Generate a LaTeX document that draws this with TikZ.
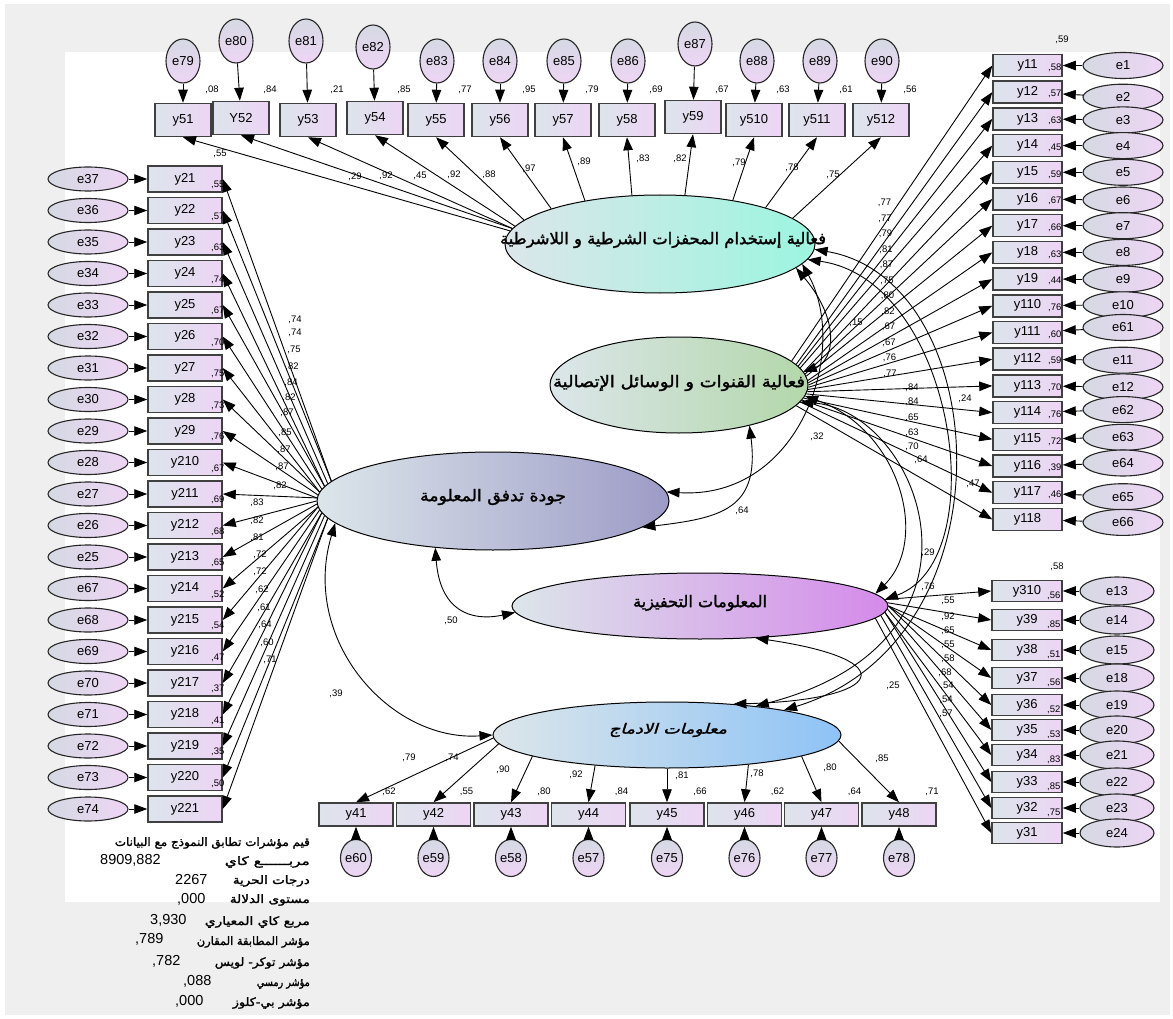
\documentclass[tikz,border=0pt]{standalone}
\usepackage{fontspec}
\setmainfont{Liberation Sans}
\newfontfamily\arb[Script=Arabic,FakeBold=1.6]{DejaVu Sans}
\newfontfamily\arbi[Script=Arabic,FakeBold=1.6,FakeSlant=0.25]{DejaVu Sans}
\usetikzlibrary{shapes.geometric,arrows.meta}
\TeXXeTstate=1

\definecolor{bgGray}{HTML}{EFEFEF}
\definecolor{boxL}{HTML}{DDE4EC}
\definecolor{boxR}{HTML}{EDD5F4}
\definecolor{errL}{HTML}{D5D9E3}
\definecolor{errR}{HTML}{EED5F5}
\definecolor{latL}{HTML}{DCE6EA}
\definecolor{latA}{HTML}{9CF5E0}
\definecolor{latB}{HTML}{B3D7AA}
\definecolor{latC}{HTML}{9D9BC7}
\definecolor{latD}{HTML}{D58AEA}
\definecolor{latE}{HTML}{8EC3F6}

% Arabic text at a given size, stretched horizontally to a given width
\newcommand\artxt[4][\arb]{\resizebox{#3pt}{\height}{#1\fontsize{#2}{#2}\selectfont #4}}

\tikzset{
  obs/.style={rectangle, draw=black!75, line width=1.5pt, inner sep=0pt,
    left color=boxL, right color=boxR, font=\fontsize{13}{13}\selectfont},
  errh/.style={ellipse, draw=black!85, line width=1.1pt, inner sep=0pt,
    left color=errL, right color=errR, font=\fontsize{13}{13}\selectfont},
  errv/.style={ellipse, draw=black!85, line width=1.1pt, inner sep=0pt,
    top color=errL, bottom color=errR, font=\fontsize{13}{13}\selectfont},
  lat/.style={ellipse, draw=black, line width=1pt, inner sep=0pt, left color=latL},
  rsq/.style={inner sep=0pt, font=\fontsize{9.5}{10}\selectfont},
  ld/.style={-{Triangle[length=13pt,width=9.5pt]}, line width=0.9pt},
  cv/.style={{Triangle[length=13pt,width=9.5pt]}-{Triangle[length=13pt,width=9.5pt]}, line width=0.9pt},
  fitline/.style={anchor=east, inner sep=0pt},
}

\begin{document}
\begin{tikzpicture}[x=1pt,y=-1pt]
\useasboundingbox (0,0) rectangle (1173,1019);
\fill[white] (0,0) rectangle (1173,1019);
\fill[bgGray] (5,4) rectangle (1170,1015);
\fill[white] (65,52) rectangle (1160,902);

% ---------- latent variables ----------
\node[lat, minimum width=310pt, minimum height=98pt, right color=latA] (L1) at (660,244) {};
\node[lat, minimum width=258pt, minimum height=96pt, right color=latB] (L2) at (679,385) {};
\node[lat, minimum width=352pt, minimum height=98pt, right color=latC] (L3) at (493,501) {};
\node[lat, minimum width=376pt, minimum height=66pt, right color=latD] (L4) at (700,606) {};
\node[lat, minimum width=348pt, minimum height=66pt, right color=latE] (L5) at (667,735) {};

% ---------- top row: y51 ... y512 ----------
\foreach \lab/\x/\y/\e/\ex/\ey/\v [count=\k] in {
  y51/183/120/79/183/61/08, Y52/241/118/80/236/41/84, y53/308/120/81/306/41/21,
  y54/375/118/82/373/47/85, y55/436/120/83/437/61/77, y56/500/120/84/500/61/95,
  y57/563/120/85/564/61/79, y58/627/120/86/628/61/69, y59/693/117/87/695/44/67,
  y510/754/120/88/757/61/63, y511/817/120/89/820/61/61, y512/881/120/90/882/61/56} {
  \node[obs, minimum width=56pt, minimum height=33pt] (t\k) at (\x,\y) {\lab};
  \node[errv, minimum width=34pt, minimum height=44pt] (te\k) at (\ex,\ey) {e\e};
  \node[rsq] at (\x+29,90) {,\v};
}

% ---------- left column: y21 ... y221 ----------
\foreach \e [count=\k] in {37,36,35,34,33,32,31,30,29,28,27,26,25,67,68,69,70,71,72,73,74} {
  \pgfmathsetmacro\yy{179+(\k-1)*31.5}
  \node[obs, minimum width=74pt, minimum height=26pt] (l\k) at (185,\yy) {y2\k};
  \node[errh, minimum width=80pt, minimum height=24pt] (le\k) at (88,\yy) {e\e};
}
\foreach \v [count=\k] in {55,57,63,74,67,70,75,73,76,67,69,68,65,52,54,47,37,41,35,50} {
  \pgfmathsetmacro\yy{179+(\k-1)*31.5+6}
  \node[rsq, anchor=west] at (211,\yy) {,\v};
}

% ---------- right column: y11 ... y118 ----------
\foreach \e/\dy [count=\k] in {1/0,2/5,3/1,4/0,5/0,6/1,7/0,8/0,9/0,10/-1,61/-5,11/1,12/1,62/-3,63/-2,64/-3,65/4,66/3} {
  \pgfmathsetmacro\yy{65.5+(\k-1)*26.7}
  \pgfmathsetmacro\ey{\yy+\dy}
  \node[obs, minimum width=69pt, minimum height=22pt] (r\k) at (1027.5,\yy) {y1\k\hspace{12pt}};
  \node[errh, minimum width=80pt, minimum height=26pt] (re\k) at (1123,\ey) {e\e};
}
\foreach \v [count=\k] in {58,57,63,45,59,67,66,63,44,76,60,59,70,76,72,39,46} {
  \pgfmathsetmacro\yy{65.5+(\k-1)*26.7+2}
  \node[rsq, anchor=west] at (1048,\yy) {,\v};
}
\node[rsq] at (1062,40) {,59};

% ---------- right column, lower block: y310 ... y31 ----------
\foreach \lab/\e/\yy [count=\k] in {y310/13/591, y39/14/620, y38/15/650, y37/18/678, y36/19/705,
  y35/20/730, y34/21/755, y33/22/782, y32/23/808, y31/24/833} {
  \node[obs, minimum width=70pt, minimum height=21pt] (b\k) at (1027,\yy) {\lab\hspace{12pt}};
  \node[errh, minimum width=74pt, minimum height=28pt] (be\k) at (1117,\yy) {e\e};
}
\foreach \v/\yy in {56/591, 85/620, 51/650, 56/678, 52/705, 53/730, 83/755, 85/782, 75/808} {
  \node[rsq, anchor=west] at (1047,\yy+5) {,\v};
}
\node[rsq] at (1057,567) {,58};

% ---------- bottom row: y41 ... y48 ----------
\foreach \lab/\e/\xx/\v [count=\k] in {y41/60/356/62, y42/59/433.5/55, y43/58/511/80, y44/57/588.5/84,
  y45/75/667/66, y46/76/744.5/62, y47/77/821.5/64, y48/78/899/71} {
  \node[obs, minimum width=74pt, minimum height=23pt] (d\k) at (\xx,814.5) {\lab};
  \node[errv, minimum width=31pt, minimum height=37pt] (de\k) at (\xx,858) {e\e};
  \node[rsq] at (\xx+33,792) {,\v};
}

% ---------- measurement paths ----------
\foreach \k/\ang in {1/175,2/174.5,3/174,4/173,5/170,6/162,7/150,8/120,9/63,10/31,11/19,12/11} {
  \draw[ld] (L1.\ang) -- (t\k.south);
  \draw[ld] (te\k) -- (t\k);
}
\foreach \k in {1,...,21} {
  \pgfmathsetmacro\ang{173+(\k-1)*0.7}
  \draw[ld] (L3.\ang) -- (l\k.east);
  \draw[ld] (le\k) -- (l\k);
}
\foreach \k in {1,...,18} {
  \pgfmathsetmacro\ang{12-(\k-1)*1.3}
  \draw[ld] (L2.\ang) -- (r\k.west);
  \draw[ld] (re\k) -- (r\k);
}
\foreach \k in {1,...,10} {
  \pgfmathsetmacro\ang{2-(\k-1)*0.7}
  \draw[ld] (L4.\ang) -- (b\k.west);
  \draw[ld] (be\k) -- (b\k);
}
\foreach \k/\ang in {1/181,2/183,3/189,4/203,5/270,6/340,7/351,8/358} {
  \draw[ld] (L5.\ang) -- (d\k.north);
  \draw[ld] (de\k) -- (d\k);
}

% ---------- covariances ----------
\draw[cv] (L3.188) .. controls (300,640) and (390,742) .. (L5.180);
\draw[cv] (L3.219) .. controls (440,610) and (470,622) .. (L4.182);
\draw[cv] (L2.-30) .. controls (760,510) and (720,518) .. (L3.-10);
\draw[cv] (L1.-8) .. controls (850,350) and (800,500) .. (L3.3);
\draw[cv] (L1.-10) .. controls (840,320) and (835,360) .. (L2.6);
\draw[cv] (L1.-6) .. controls (955,280) and (995,560) .. (L4.2);
\draw[cv] (L1.-2) .. controls (995,280) and (1015,640) .. (L5.12);
\draw[cv] (L2.-5) .. controls (900,430) and (930,540) .. (L4.4);
\draw[cv] (L2.-8) .. controls (920,410) and (1010,640) .. (L5.18);
\draw[cv] (L4.-30) .. controls (905,660) and (885,700) .. (L5.25);

% ---------- loading values ----------
\foreach \x/\y/\v in {220/154/55, 355/177/29, 386/176/92, 420/176/45, 454/175/92, 489/175/88,
  529/169/97, 584/162/89, 643/159/83, 680/159/82, 739/163/79, 792/168/78, 833/175/75} {
  \node[rsq] at (\x,\y) {,\v};
}
\foreach \x/\y/\v in {295/320/74, 295/333/74, 294/350/75, 292/367/82, 291/383/84, 289/398/82,
  287/413/87, 285/433/85, 284/450/87, 282/467/87, 280/486/82, 257/503/83, 257/521/82,
  257/538/81, 260/555/72, 260/572/72, 262/590/62, 264/608/61, 265/625/64, 267/643/60, 270/660/71} {
  \node[rsq] at (\x,\y) {,\v};
}
\foreach \v [count=\k] in {77,77,79,81,87,75,80,82,67,67,76,77} {
  \pgfmathsetmacro\yy{203+(\k-1)*15.5}
  \node[rsq] at (884+\k*0.5,\yy) {,\v};
}
\foreach \x/\y/\v in {912/388/84, 912/402/84, 912/418/65, 912/433/63, 912/447/70, 921/460/64,
  928/587/76, 948/601/55, 948/617/92, 948/631/65, 948/645/55, 948/659/58, 945/673/68,
  947/686/54, 946/700/54, 946/714/57,
  409/758/79, 452/758/74, 503/770/90, 576/775/92, 682/776/81, 757/774/78, 830/768/80, 882/759/85,
  965/399/24, 973/484/47, 856/323/15, 817/437/32, 742/511/64, 451/621/50, 336/694/39,
  928/553/29, 893/686/25} {
  \node[rsq] at (\x,\y) {,\v};
}

% ---------- latent labels ----------
\node[inner sep=0pt] at (663,240) {\artxt{16}{326}{\beginR فعالية إستخدام المحفزات الشرطية و اللاشرطية\endR}};
\node[inner sep=0pt] at (679,383) {\artxt{16}{252}{\beginR فعالية القنوات و الوسائل الإتصالية\endR}};
\node[inner sep=0pt] at (493,497) {\artxt{16}{146}{\beginR جودة تدفق  المعلومة\endR}};
\node[inner sep=0pt] at (700,603) {\artxt{16}{134}{\beginR المعلومات التحفيزية\endR}};
\node[inner sep=0pt] at (668,730) {\artxt[\arbi]{14}{118}{\beginR معلومات الادماج\endR}};

% ---------- fit indices ----------
\node[fitline] at (310,843) {\artxt{11.5}{195}{\beginR قيم مؤشرات تطابق النموذج مع البيانات\endR}};
\node[fitline] at (310,862) {\artxt{11.5}{85}{\beginR مربــــــع كاي\endR}};
\node[fitline] at (310,881) {\artxt{11.5}{77}{\beginR درجات الحرية\endR}};
\node[fitline] at (310,900) {\artxt{11.5}{80}{\beginR مستوى الدلالة\endR}};
\node[fitline] at (310,922) {\artxt{11.5}{105}{\beginR مربع كاي المعياري\endR}};
\node[fitline] at (310,942) {\artxt{11.5}{113}{\beginR مؤشر المطابقة المقارن\endR}};
\node[fitline] at (310,963) {\artxt{11.5}{95}{\beginR مؤشر توكر- لويس\endR}};
\node[fitline] at (310,984) {\artxt{11.5}{53}{\beginR مؤشر رمسي\endR}};
\node[fitline] at (310,1003) {\artxt{11.5}{77}{\beginR مؤشر بي-كلوز\endR}};
\foreach \x/\y/\s in {100/860/{8909,882}, 175/880/{2267}, 177/899/{,000}, 150/920/{3,930},
  135/939/{,789}, 152/961/{,782}, 183/981/{,088}, 175/1001/{,000}} {
  \node[anchor=west, inner sep=0pt, font=\fontsize{14.5}{15}\selectfont] at (\x,\y) {\s};
}
\end{tikzpicture}
\end{document}
